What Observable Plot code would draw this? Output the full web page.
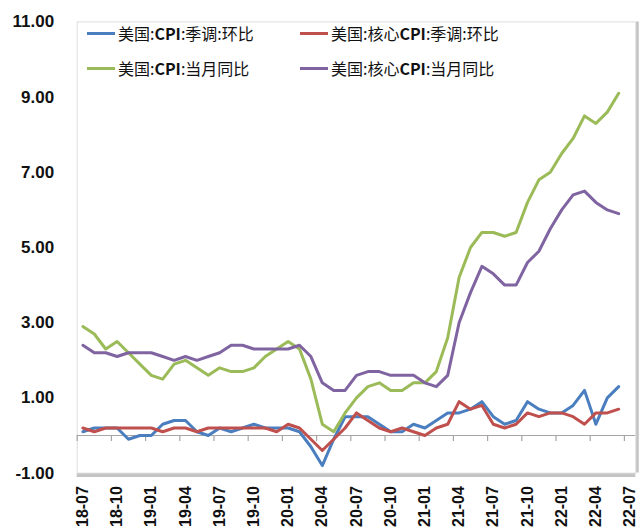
<!DOCTYPE html>
<html>
<head>
<meta charset="utf-8">
<script src="https://cdn.jsdelivr.net/npm/d3@7"></script>
<script src="https://cdn.jsdelivr.net/npm/@observablehq/plot@0.6"></script>
<style>
  html, body { margin: 0; padding: 0; background: #fff; }
  #wrap { position: relative; width: 640px; height: 531px; }
  #legend { position: absolute; left: 0; top: 0; width: 640px; height: 100px; pointer-events: none;
    font-family: "Noto Sans CJK SC", sans-serif; font-size: 16px; color: #111; }
  .item { position: absolute; display: flex; align-items: center; white-space: nowrap; }
  .sw { display: inline-block; width: 28px; height: 3px; margin-right: 3px; }
</style>
</head>
<body>
<div id="wrap">
  <div id="chart"></div>
  <div id="legend"></div>
</div>
<script>
// Month labels on the category axis (every 3 months)
const tickLabels = ["18-07","18-10","19-01","19-04","19-07","19-10","20-01","20-04","20-07","20-10","21-01","21-04","21-07","21-10","22-01","22-04","22-07"];
const categoryCount = 49; // 2018-07 .. 2022-07

const seriesNames = ["美国:CPI:季调:环比", "美国:核心CPI:季调:环比", "美国:CPI:当月同比", "美国:核心CPI:当月同比"];
const seriesColors = ["#4a7ebf", "#c0504d", "#9bbb59", "#8064a2"];

// 2018-07 .. 2022-06 (48 months)
const cpiMoM = [0.1,0.2,0.2,0.2,-0.1,0.0,0.0,0.3,0.4,0.4,0.1,0.0,
                0.2,0.1,0.2,0.3,0.2,0.2,0.2,0.1,-0.3,-0.8,-0.1,0.5,
                0.5,0.5,0.3,0.1,0.1,0.3,0.2,0.4,0.6,0.6,0.7,0.9,
                0.5,0.3,0.4,0.9,0.7,0.6,0.6,0.8,1.2,0.3,1.0,1.3];
const coreMoM = [0.2,0.1,0.2,0.2,0.2,0.2,0.2,0.1,0.2,0.2,0.1,0.2,
                 0.2,0.2,0.2,0.2,0.2,0.1,0.3,0.2,-0.1,-0.4,-0.1,0.2,
                 0.6,0.4,0.2,0.1,0.2,0.1,0.0,0.2,0.3,0.9,0.7,0.8,
                 0.3,0.2,0.3,0.6,0.5,0.6,0.6,0.5,0.3,0.6,0.6,0.7];
const cpiYoY = [2.9,2.7,2.3,2.5,2.2,1.9,1.6,1.5,1.9,2.0,1.8,1.6,
                1.8,1.7,1.7,1.8,2.1,2.3,2.5,2.3,1.5,0.3,0.1,0.6,
                1.0,1.3,1.4,1.2,1.2,1.4,1.4,1.7,2.6,4.2,5.0,5.4,
                5.4,5.3,5.4,6.2,6.8,7.0,7.5,7.9,8.5,8.3,8.6,9.1];
const coreYoY = [2.4,2.2,2.2,2.1,2.2,2.2,2.2,2.1,2.0,2.1,2.0,2.1,
                 2.2,2.4,2.4,2.3,2.3,2.3,2.3,2.4,2.1,1.4,1.2,1.2,
                 1.6,1.7,1.7,1.6,1.6,1.6,1.4,1.3,1.6,3.0,3.8,4.5,
                 4.3,4.0,4.0,4.6,4.9,5.5,6.0,6.4,6.5,6.2,6.0,5.9];

const yTicks = [-1, 1, 3, 5, 7, 9, 11];

const allSeries = [cpiMoM, coreMoM, cpiYoY, coreYoY];
const rows = allSeries.flatMap((vals, s) => vals.map((v, i) => ({x: i + 0.5, y: v, s})));
const tickPos = tickLabels.map((_, k) => k * 3);
const labelRows = tickLabels.map((t, k) => ({x: k * 3 + 0.5, t}));

const chart = Plot.plot({
  width: 640,
  height: 531,
  marginLeft: 76.7,
  marginRight: 4.7,
  marginTop: 21.4,
  marginBottom: 58.4,
  x: {domain: [0, categoryCount], axis: null},
  y: {domain: [-1, 11], axis: null},
  marks: [
    Plot.ruleY([-1], {stroke: "#c4c4c4", strokeWidth: 4, dy: 2}),
    Plot.ruleX([categoryCount], {stroke: "#c4c4c4", strokeWidth: 3, dx: 1.5}),
    Plot.frame({stroke: "#dedede"}),
    Plot.ruleY([0], {stroke: "#a6a6a6", strokeWidth: 1.2}),
    Plot.ruleX(tickPos, {y1: 0, y2: 0, insetBottom: -6, stroke: "#a6a6a6", strokeWidth: 1.2}),
    ...allSeries.map((vals, s) =>
      Plot.line(rows.filter(r => r.s === s), {x: "x", y: "y", stroke: seriesColors[s], strokeWidth: 3, strokeLinejoin: "round", strokeLinecap: "round"})
    ),
    Plot.axisY(yTicks, {label: null, tickSize: 0, tickPadding: 23, tickFormat: d => d.toFixed(2), fontSize: 17, fontWeight: "bold", fontFamily: "Liberation Sans, Arial, sans-serif", fill: "#111"}),
    Plot.text(labelRows, {x: "x", frameAnchor: "bottom", text: "t", rotate: -90, textAnchor: "end", lineAnchor: "middle", dy: 13, fontSize: 16, fontWeight: "bold", fontFamily: "Liberation Sans, Arial, sans-serif", fill: "#111"})
  ]
});
document.getElementById("chart").appendChild(chart);

// Legend (2 x 2 inside the plot area)
const legendPos = [[87, 33], [300, 33], [87, 68], [300, 68]];
const legend = document.getElementById("legend");
seriesNames.forEach((name, s) => {
  const d = document.createElement("div");
  d.className = "item";
  d.style.left = legendPos[s][0] + "px";
  d.style.top = (legendPos[s][1] - 12) + "px";
  d.style.height = "24px";
  const sw = document.createElement("span");
  sw.className = "sw";
  sw.style.background = seriesColors[s];
  d.appendChild(sw);
  const t = document.createElement("span");
  t.innerHTML = name.replace("CPI", "<b>CPI</b>");
  d.appendChild(t);
  legend.appendChild(d);
});
</script>
</body>
</html>
